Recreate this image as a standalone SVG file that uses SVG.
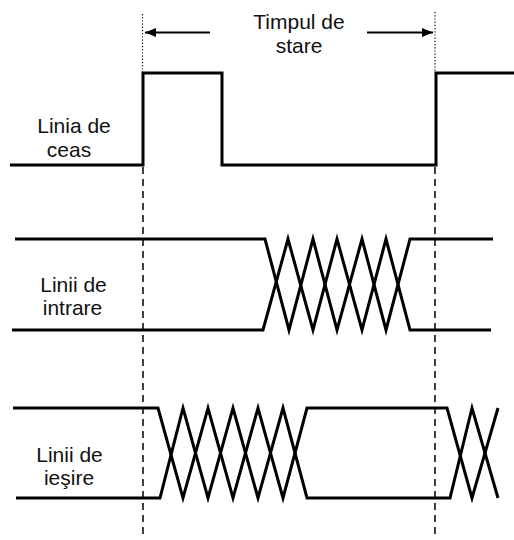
<svg xmlns="http://www.w3.org/2000/svg" width="514" height="540" viewBox="0 0 514 540">
<style>
.sig{fill:none;stroke:#000;stroke-width:3;stroke-linejoin:miter}
.dash{fill:none;stroke:#000;stroke-width:1.5;stroke-dasharray:7,5}
.dot{fill:none;stroke:#000;stroke-width:1.2;stroke-dasharray:1.2,2}
.arr{fill:none;stroke:#000;stroke-width:2}
.t{font-family:"Liberation Sans",Arial,sans-serif;font-size:21px;fill:#111;text-anchor:middle}
</style>
<defs>
<marker id="ah" viewBox="0 0 11 9" refX="11" refY="4.5" markerWidth="11" markerHeight="9" markerUnits="userSpaceOnUse" orient="auto">
<path d="M0,0 L11,4.5 L0,9 z" fill="#000"/>
</marker>
</defs>
<rect width="514" height="540" fill="#fff"/>
<g id="guides">
<line class="dot" x1="142.5" y1="14" x2="142.5" y2="72"/>
<line class="dot" x1="435" y1="12" x2="435" y2="72"/>
<line class="dash" x1="143" y1="167" x2="143" y2="538"/>
<line class="dash" x1="435" y1="167" x2="435" y2="538"/>
</g>
<g id="connectors">
<line class="arr" x1="210" y1="32.5" x2="145" y2="32.5" marker-end="url(#ah)"/>
<line class="arr" x1="367" y1="32.5" x2="433" y2="32.5" marker-end="url(#ah)"/>
</g>
<g id="label-timp">
<text class="t" x="299" y="29">Timpul de</text>
<text class="t" x="299" y="53">stare</text>
</g>
<g id="clock">
<polyline class="sig" points="10,165 143,165 143,73 222,73 222,165 436,165 436,73 514,73"/>
<text class="t" x="74" y="133">Linia de</text>
<text class="t" x="69" y="157">ceas</text>
</g>
<g id="inputs">
<polyline class="sig" points="15,239 265,239 289,330 313,239 337,330 362,239 386,330 410,239 493,239"/>
<polyline class="sig" points="12,330 263,330 288,239 313,330 337,239 362,330 386,239 410,330 491,330"/>
<text class="t" x="73.5" y="292">Linii de</text>
<text class="t" x="72.5" y="315">intrare</text>
</g>
<g id="outputs">
<polyline class="sig" points="13,408 158,408 183,498 208,408 233,498 258,408 283,498 307,408 447,408 472,498 498,408"/>
<polyline class="sig" points="16,498 160,498 183,408 208,498 233,408 258,498 283,408 307,498 450,498 472,408 498,498"/>
<text class="t" x="69.5" y="462">Linii de</text>
<text class="t" x="69" y="485">ieşire</text>
</g>
</svg>
